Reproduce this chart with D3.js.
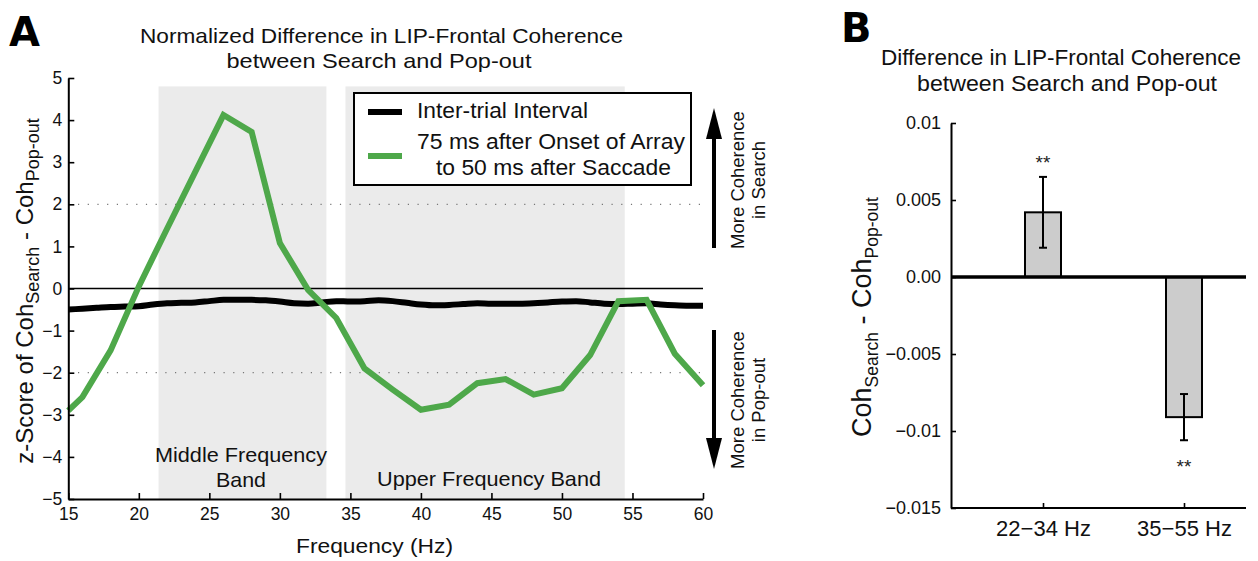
<!DOCTYPE html>
<html>
<head>
<meta charset="utf-8">
<script src="https://cdn.jsdelivr.net/npm/d3@7"></script>
<style>
  body { margin: 0; background: #fff; }
  svg { font-family: "Liberation Sans", Arial, sans-serif; }
</style>
</head>
<body>
<div id="chart"></div>
<script>
// Panel A data: z-score of coherence difference by frequency
const greenFreqs = [15, 16, 18, 20, 22, 24, 26, 28, 30, 32, 34, 36, 38, 40, 42, 44, 46, 48, 50, 52, 54, 56, 58, 60];
const greenZ = [-2.9, -2.58, -1.47, 0.05, 1.42, 2.77, 4.12, 3.72, 1.08, -0.03, -0.7, -1.9, -2.4, -2.88, -2.76, -2.25, -2.15, -2.52, -2.37, -1.58, -0.3, -0.27, -1.55, -2.3];
const itiFreqs = d3.range(15, 61);
const itiZ = [-0.5, -0.48, -0.46, -0.44, -0.43, -0.42, -0.38, -0.35, -0.34, -0.33, -0.3, -0.27, -0.27, -0.27, -0.28, -0.31,
  -0.35, -0.36, -0.33, -0.3, -0.31, -0.3, -0.28, -0.3, -0.34, -0.38, -0.4, -0.39, -0.37, -0.35, -0.36, -0.36,
  -0.36, -0.35, -0.33, -0.31, -0.3, -0.33, -0.36, -0.37, -0.36, -0.35, -0.38, -0.4, -0.41, -0.41];
const bands = [
  { from: 21.4, to: 33.3 },
  { from: 34.65, to: 54.45 }
];
const xTicksA = [15, 20, 25, 30, 35, 40, 45, 50, 55, 60];
const yTicksA = [-5, -4, -3, -2, -1, 0, 1, 2, 3, 4, 5];

// Panel B data: mean difference with error
const barCats = ['22\u221234 Hz', '35\u221255 Hz'];
const barMeans = [0.0042, -0.0091];
const barErrs = [0.0023, 0.0015];
const yTicksB = [-0.015, -0.01, -0.005, 0, 0.005, 0.01];
const yTickLabelsB = ['\u22120.015', '\u22120.01', '\u22120.005', '0.00', '0.005', '0.01'];

const W = 1258, H = 561;
const svg = d3.select('#chart').append('svg').attr('width', W).attr('height', H);
const ink = '#111';

// helper for text squeezed/stretched to a measured width
function fitText(g, x, y, str, size, len, anchor) {
  return g.append('text').attr('x', x).attr('y', y).attr('font-size', size)
    .attr('text-anchor', anchor || 'start').attr('fill', ink)
    .attr('textLength', len).attr('lengthAdjust', 'spacingAndGlyphs').text(str);
}

// ---------------- Panel A ----------------
const x = d3.scaleLinear().domain([15, 60]).range([68.3, 703]);
const y = d3.scaleLinear().domain([-5, 5]).range([499, 78]);

// shaded bands
svg.append('g').selectAll('rect').data(bands).enter().append('rect')
  .attr('x', d => x(d.from))
  .attr('width', d => x(d.to) - x(d.from))
  .attr('y', y(4.8))
  .attr('height', y(-5) - y(4.8))
  .attr('fill', '#ebebeb');

// dotted +-2 lines
svg.append('g').selectAll('line').data([-2, 2]).enter().append('line')
  .attr('x1', x(15)).attr('x2', x(60))
  .attr('y1', d => y(d)).attr('y2', d => y(d))
  .attr('stroke', '#777').attr('stroke-width', 1.2)
  .attr('stroke-dasharray', '1.2,8.5');

// zero line
svg.append('line')
  .attr('x1', x(15)).attr('x2', x(60))
  .attr('y1', y(0)).attr('y2', y(0))
  .attr('stroke', '#000').attr('stroke-width', 1.6);

// band labels
const bandText = svg.append('g');
fitText(bandText, 241, 462, 'Middle Frequency', 21, 172, 'middle');
fitText(bandText, 241, 487, 'Band', 21, 50, 'middle');
fitText(bandText, 489, 486, 'Upper Frequency Band', 21, 224, 'middle');

const line = d3.line().x(d => x(d[0])).y(d => y(d[1]));

svg.append('path')
  .datum(itiFreqs.map((f, i) => [f, itiZ[i]]))
  .attr('fill', 'none').attr('stroke', '#000').attr('stroke-width', 6)
  .attr('stroke-linejoin', 'round')
  .attr('d', line.curve(d3.curveMonotoneX));

svg.append('path')
  .datum(greenFreqs.map((f, i) => [f, greenZ[i]]))
  .attr('fill', 'none').attr('stroke', '#4ea84a').attr('stroke-width', 6)
  .attr('stroke-linejoin', 'miter')
  .attr('d', line.curve(d3.curveLinear));

// axes
const axA = svg.append('g').attr('transform', `translate(0,${y(-5)})`)
  .call(d3.axisBottom(x).tickValues(xTicksA).tickSizeInner(-6).tickSizeOuter(0).tickPadding(9));
const ayA = svg.append('g').attr('transform', `translate(${x(15)},0)`)
  .call(d3.axisLeft(y).tickValues(yTicksA).tickSizeInner(-6).tickSizeOuter(0).tickPadding(6));
[axA, ayA].forEach(g => {
  g.select('.domain').attr('stroke-width', 2);
  g.selectAll('.tick line').attr('stroke-width', 1.6);
  g.selectAll('.tick text').attr('font-size', 17.5).attr('fill', ink).attr('font-family', 'Liberation Sans, Arial');
});

fitText(svg, 374.5, 553, 'Frequency (Hz)', 21, 157, 'middle');

const ylabA = svg.append('text').attr('transform', 'translate(33,291) rotate(-90)')
  .attr('text-anchor', 'middle').attr('font-size', 24).attr('fill', ink);
ylabA.append('tspan').text('z-Score of Coh');
ylabA.append('tspan').attr('font-size', 18).attr('dy', 6).text('Search');
ylabA.append('tspan').attr('dy', -6).text(' - Coh');
ylabA.append('tspan').attr('font-size', 18).attr('dy', 6).text('Pop-out');

// title A
fitText(svg, 381.5, 43, 'Normalized Difference in LIP-Frontal Coherence', 21, 483, 'middle');
fitText(svg, 379, 68, 'between Search and Pop-out', 21, 305, 'middle');

svg.append('text').attr('x', 9).attr('y', 46).attr('font-size', 40).attr('font-weight', 900)
  .attr('font-family', 'DejaVu Sans, Liberation Sans').text('A');

// legend
const lg = svg.append('g');
lg.append('rect').attr('x', 354).attr('y', 93).attr('width', 337).attr('height', 92)
  .attr('fill', '#fff').attr('stroke', '#000').attr('stroke-width', 2);
lg.append('line').attr('x1', 368).attr('x2', 402).attr('y1', 112).attr('y2', 112)
  .attr('stroke', '#000').attr('stroke-width', 6);
lg.append('line').attr('x1', 368).attr('x2', 402).attr('y1', 156).attr('y2', 156)
  .attr('stroke', '#4ea84a').attr('stroke-width', 6);
fitText(lg, 417, 118, 'Inter-trial Interval', 22, 171);
fitText(lg, 417, 149, '75 ms after Onset of Array', 22, 268);
fitText(lg, 436, 175, 'to 50 ms after Saccade', 22, 235);

// direction arrows
function arrow(x0, yStart, yTip) {
  const dir = yTip < yStart ? -1 : 1;
  svg.append('line').attr('x1', x0).attr('x2', x0).attr('y1', yStart).attr('y2', yTip - dir * 26)
    .attr('stroke', '#000').attr('stroke-width', 4);
  svg.append('path')
    .attr('d', `M${x0 - 8},${yTip - dir * 31} L${x0 + 8},${yTip - dir * 31} L${x0},${yTip} Z`)
    .attr('fill', '#000');
}
arrow(714, 248, 108);
arrow(714, 330, 469);
const arT = svg.append('g').attr('font-size', 18.5).attr('fill', ink).attr('text-anchor', 'middle');
arT.append('text').attr('transform', 'translate(744,180) rotate(-90)').text('More Coherence');
arT.append('text').attr('transform', 'translate(765,180) rotate(-90)').text('in Search');
arT.append('text').attr('transform', 'translate(744,400) rotate(-90)').text('More Coherence');
arT.append('text').attr('transform', 'translate(765,400) rotate(-90)').text('in Pop-out');

// ---------------- Panel B ----------------
const xb = d3.scalePoint().domain(barCats).range([1043, 1184]);
const yb = d3.scaleLinear().domain([-0.015, 0.01]).range([508, 123]);
const bw = 36;

const bars = svg.append('g');
bars.selectAll('rect').data(barCats).enter().append('rect')
  .attr('x', d => xb(d) - bw / 2)
  .attr('width', bw)
  .attr('y', (d, i) => yb(Math.max(0, barMeans[i])))
  .attr('height', (d, i) => Math.abs(yb(barMeans[i]) - yb(0)))
  .attr('fill', '#cccccc').attr('stroke', '#000').attr('stroke-width', 2);

// error bars
const eb = svg.append('g').attr('stroke', '#000').attr('stroke-width', 2);
barCats.forEach((c, i) => {
  const lo = barMeans[i] - barErrs[i], hi = barMeans[i] + barErrs[i];
  eb.append('line').attr('x1', xb(c)).attr('x2', xb(c)).attr('y1', yb(lo)).attr('y2', yb(hi));
  eb.append('line').attr('x1', xb(c) - 4).attr('x2', xb(c) + 4).attr('y1', yb(lo)).attr('y2', yb(lo));
  eb.append('line').attr('x1', xb(c) - 4).attr('x2', xb(c) + 4).attr('y1', yb(hi)).attr('y2', yb(hi));
});

// significance stars
svg.append('text').attr('x', xb(barCats[0])).attr('y', yb(barMeans[0] + barErrs[0]) - 8)
  .attr('text-anchor', 'middle').attr('font-size', 19).attr('fill', '#222').text('**');
svg.append('text').attr('x', xb(barCats[1])).attr('y', yb(barMeans[1] - barErrs[1]) + 33)
  .attr('text-anchor', 'middle').attr('font-size', 19).attr('fill', '#222').text('**');

// zero line B
svg.append('line').attr('x1', 951).attr('x2', 1246).attr('y1', yb(0)).attr('y2', yb(0))
  .attr('stroke', '#000').attr('stroke-width', 3.5);

// axes B
const ayB = svg.append('g').attr('transform', 'translate(951,0)')
  .call(d3.axisLeft(yb).tickValues(yTicksB).tickFormat((d, i) => yTickLabelsB[i])
    .tickSizeInner(-5).tickSizeOuter(0).tickPadding(10));
svg.append('line').attr('x1', 951).attr('x2', 1246).attr('y1', yb(-0.015)).attr('y2', yb(-0.015))
  .attr('stroke', '#000').attr('stroke-width', 2);
const axB = svg.append('g').attr('transform', `translate(0,${yb(-0.015)})`)
  .call(d3.axisBottom(xb).tickSizeInner(-5).tickSizeOuter(0).tickPadding(12));
axB.select('.domain').remove();
[ayB, axB].forEach(g => {
  g.select('.domain').attr('stroke-width', 2);
  g.selectAll('.tick line').attr('stroke-width', 1.6);
  g.selectAll('.tick text').attr('fill', ink).attr('font-family', 'Liberation Sans, Arial');
});
ayB.selectAll('.tick text').attr('font-size', 18);
axB.selectAll('.tick text').attr('font-size', 22);

const ylabB = svg.append('text').attr('transform', 'translate(871,317) rotate(-90)')
  .attr('text-anchor', 'middle').attr('font-size', 27).attr('fill', ink);
ylabB.append('tspan').text('Coh');
ylabB.append('tspan').attr('font-size', 17.5).attr('dy', 7).text('Search');
ylabB.append('tspan').attr('dy', -7).text(' - Coh');
ylabB.append('tspan').attr('font-size', 17.5).attr('dy', 7).text('Pop-out');

fitText(svg, 1061, 65, 'Difference in LIP-Frontal Coherence', 21.5, 360, 'middle');
fitText(svg, 1067, 91, 'between Search and Pop-out', 21.5, 300, 'middle');

svg.append('text').attr('x', 841).attr('y', 42).attr('font-size', 40).attr('font-weight', 900)
  .attr('font-family', 'DejaVu Sans, Liberation Sans').text('B');
</script>
</body>
</html>
